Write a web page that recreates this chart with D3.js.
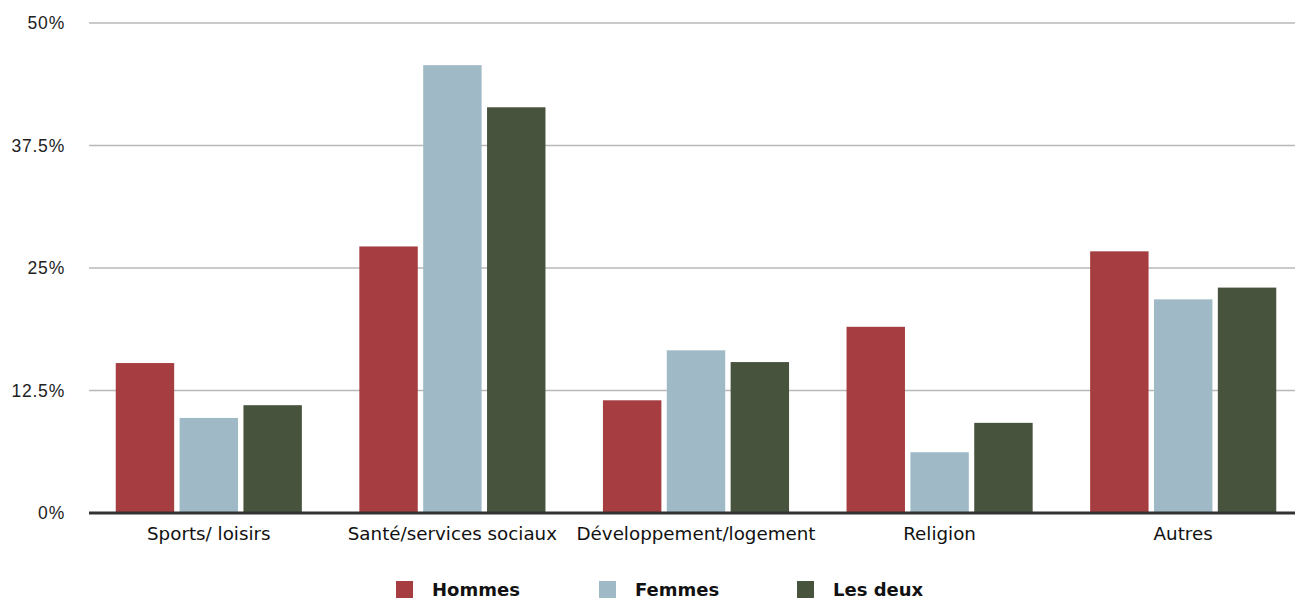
<!DOCTYPE html>
<html>
<head>
<meta charset="utf-8">
<script src="https://cdn.jsdelivr.net/npm/d3@7"></script>
<style>
  body { margin: 0; background: #fff; }
  svg { display: block; }
  .ytick text { font-family: "Liberation Sans", Arial, sans-serif; font-size: 17.5px; letter-spacing: 0.8px; fill: #222; }
  .xlab { font-family: "DejaVu Sans", sans-serif; font-size: 18.3px; fill: #111; }
  .leg { font-family: "DejaVu Sans", sans-serif; font-size: 18px; font-weight: bold; fill: #111; }
</style>
</head>
<body>
<svg id="chart"></svg>
<script>
// categories and series
const categories = ["Sports/ loisirs", "Santé/services sociaux", "Développement/logement", "Religion", "Autres"];
const series = ["Hommes", "Femmes", "Les deux"];
const colors = ["#a63d40", "#9fbac6", "#47533d"];

const hommes = [15.3, 27.2, 11.5, 19.0, 26.7];
const femmes = [9.7, 45.7, 16.6, 6.2, 21.8];
const lesDeux = [11.0, 41.4, 15.4, 9.2, 23.0];
const values = [hommes, femmes, lesDeux];

const yTicks = [0, 12.5, 25, 37.5, 50];
const yTickLabels = ["0%", "12.5%", "25%", "37.5%", "50%"];

const W = 1295, H = 598;
const svg = d3.select("#chart").attr("width", W).attr("height", H);

const x = d3.scaleBand()
    .domain(categories)
    .range([87, 1305])
    .paddingInner(0.236)
    .paddingOuter(0.118);

const xs = d3.scaleBand()
    .domain(series)
    .range([0, x.bandwidth()])
    .paddingInner(0.085);

const y = d3.scaleLinear()
    .domain([0, 50])
    .range([513, 23]);

// grid lines
const grid = svg.append("g").attr("class", "ytick");
grid.selectAll("line")
    .data(yTicks.slice(1))
    .enter().append("line")
        .attr("x1", 89).attr("x2", W)
        .attr("y1", d => y(d)).attr("y2", d => y(d))
        .attr("stroke", "#b9b9b9")
        .attr("stroke-width", 1.5);

grid.selectAll("text")
    .data(yTicks)
    .enter().append("text")
        .attr("x", 65)
        .attr("y", d => y(d))
        .attr("dy", "0.35em")
        .attr("text-anchor", "end")
        .text((d, i) => yTickLabels[i]);

// bars
const groups = svg.append("g")
    .selectAll("g")
    .data(categories)
    .enter().append("g")
        .attr("transform", d => "translate(" + x(d) + ",0)");

groups.selectAll("rect")
    .data((c, ci) => series.map((s, si) => ({ s: s, si: si, v: values[si][ci] })))
    .enter().append("rect")
        .attr("x", d => xs(d.s))
        .attr("width", xs.bandwidth())
        .attr("y", d => y(d.v))
        .attr("height", d => y(0) - y(d.v))
        .attr("fill", d => colors[d.si]);

// baseline
svg.append("line")
    .attr("x1", 89).attr("x2", W)
    .attr("y1", y(0)).attr("y2", y(0))
    .attr("stroke", "#333")
    .attr("stroke-width", 3);

// category labels
svg.append("g")
    .selectAll("text")
    .data(categories)
    .enter().append("text")
        .attr("class", "xlab")
        .attr("x", d => x(d) + x.bandwidth() / 2)
        .attr("y", 540)
        .attr("text-anchor", "middle")
        .text(d => d);

// legend
const legX = [396, 599, 797];
const leg = svg.append("g")
    .selectAll("g")
    .data(series)
    .enter().append("g")
        .attr("transform", (d, i) => "translate(" + legX[i] + ",581)");

leg.append("rect")
    .attr("width", 17).attr("height", 17)
    .attr("fill", (d, i) => colors[i]);

leg.append("text")
    .attr("class", "leg")
    .attr("x", 36)
    .attr("y", 14.5)
    .text(d => d);
</script>
</body>
</html>
